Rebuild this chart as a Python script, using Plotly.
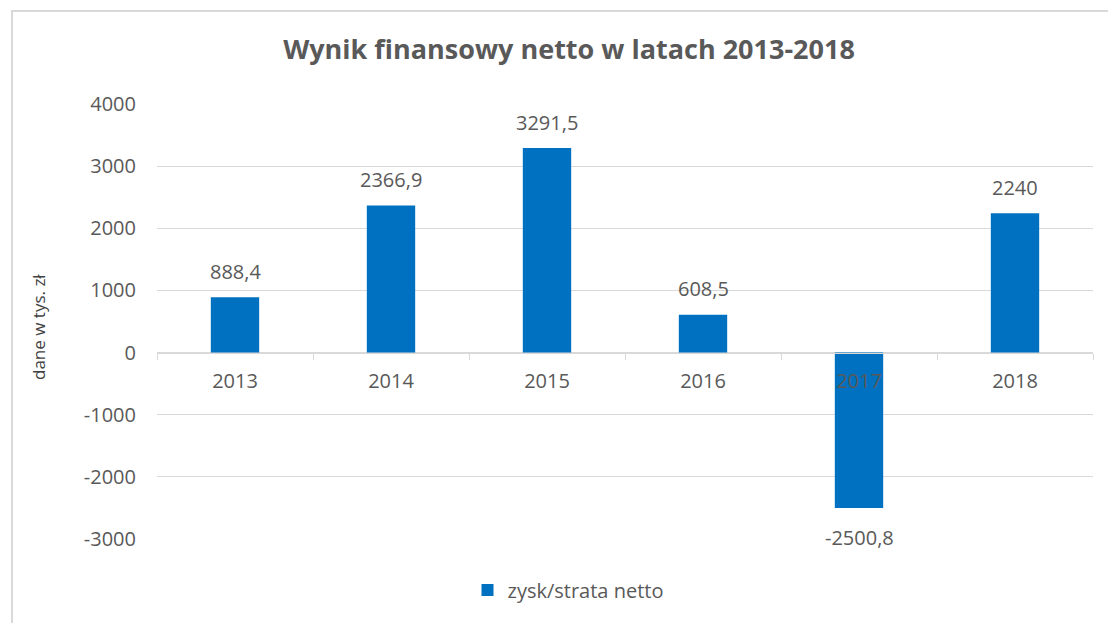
import plotly.graph_objects as go

# Data
years = ["2013", "2014", "2015", "2016", "2017", "2018"]
net_result = [888.4, 2366.9, 3291.5, 608.5, -2500.8, 2240]
y_ticks = [-3000, -2000, -1000, 0, 1000, 2000, 3000, 4000]
y_tick_labels = ["-3000", "-2000", "-1000", "0", "1000", "2000", "3000", "4000"]

labels = [f"{v:g}".replace(".", ",") for v in net_result]

W, H = 1108, 623
L, R, T, B = 157, 15, 104, 84
pw, ph = W - L - R, H - T - B

def px(x):
    return (x - L) / pw

def py(y):
    return (H - B - y) / ph

grey = "#595959"
font = "'Open Sans', sans-serif"

fig = go.Figure()
fig.add_trace(go.Bar(
    x=years, y=net_result, name="zysk/strata netto",
    marker=dict(color="#0070C0", line=dict(width=0)),
    width=0.31, cliponaxis=False,
))

# data labels (x = category index on the category axis)
for i, (v, lab) in enumerate(zip(net_result, labels)):
    fig.add_annotation(
        x=i, y=v, text=lab, showarrow=False,
        yanchor="middle", yshift=26 if v >= 0 else -30,
        font=dict(size=20, color=grey, family=font),
    )

fig.update_layout(
    width=W, height=H,
    margin=dict(l=L, r=R, t=T, b=B),
    paper_bgcolor="white", plot_bgcolor="white",
    font=dict(family=font, color=grey, size=20),
    title=dict(text="<b>Wynik finansowy netto w latach 2013-2018</b>",
               x=px(569), xref="paper", xanchor="center",
               y=1 - 50 / H, yanchor="middle",
               font=dict(size=27, color=grey, family=font)),
    showlegend=True,
    legend=dict(orientation="h", x=px(568), xanchor="center",
                y=py(590), yanchor="middle",
                font=dict(size=20, color=grey), itemwidth=30),
)

fig.update_yaxes(
    range=[-3000, 4000], tickvals=y_ticks, ticktext=y_tick_labels,
    showgrid=True, gridcolor="#d9d9d9", gridwidth=1,
    zeroline=False, showline=False, ticks="",
    ticklabelstandoff=20, tickfont=dict(size=20, color=grey),
)

fig.update_xaxes(
    type="category", range=[-0.5, 5.5],
    anchor="free", position=py(353),
    showline=True, linecolor="#d9d9d9", linewidth=1,
    ticks="outside", tickson="boundaries", ticklen=6, tickcolor="#d9d9d9",
    ticklabelstandoff=10,
    showgrid=False, tickfont=dict(size=20, color=grey),
)

fig.add_annotation(
    text="dane w tys. zł", textangle=-90,
    xref="paper", yref="paper", x=px(38), y=py(327),
    xanchor="center", yanchor="middle",
    showarrow=False, font=dict(size=17, color="#404040"),
)

# chart border
fig.add_shape(type="rect", xref="paper", yref="paper",
              x0=px(12), x1=px(1120), y0=py(640), y1=py(11),
              line=dict(color="#d9d9d9", width=2), layer="below")

fig.write_html("out.html", config={"displayModeBar": False},
               post_script="document.body.style.margin='0';")
